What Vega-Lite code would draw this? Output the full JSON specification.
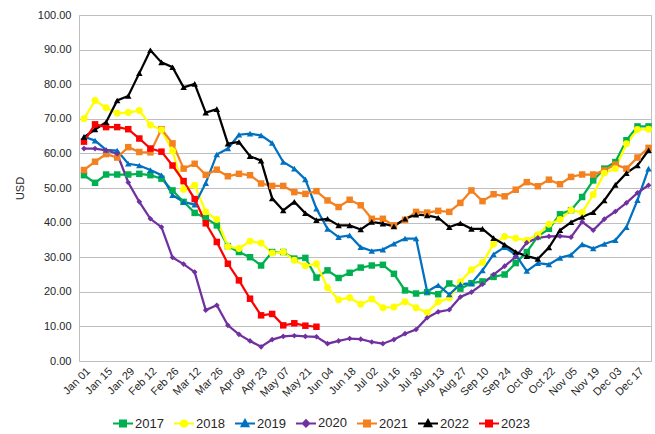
{
  "$schema": "https://vega.github.io/schema/vega-lite/v6.json",
  "width": 572,
  "height": 346,
  "autosize": "none",
  "padding": {"left": 79, "top": 15, "right": 4, "bottom": 73},
  "background": "white",
  "config": {
    "view": {"stroke": "#bfbfbf", "strokeWidth": 1},
    "font": "Liberation Sans",
    "axis": {"labelFont": "Liberation Sans", "titleFont": "Liberation Sans", "labelColor": "#262626", "titleColor": "#262626"}
  },
  "data": {
    "values": [
      {"w":"Jan 01","s":"2017","v":53.7},{"w":"Jan 08","s":"2017","v":51.5},{"w":"Jan 15","s":"2017","v":53.9},{"w":"Jan 22","s":"2017","v":53.9},{"w":"Jan 29","s":"2017","v":53.9},{"w":"Feb 05","s":"2017","v":54.1},{"w":"Feb 12","s":"2017","v":53.7},{"w":"Feb 19","s":"2017","v":52.7},{"w":"Feb 26","s":"2017","v":49.3},{"w":"Mar 05","s":"2017","v":46.0},{"w":"Mar 12","s":"2017","v":42.8},{"w":"Mar 19","s":"2017","v":41.3},{"w":"Mar 26","s":"2017","v":39.2},{"w":"Apr 02","s":"2017","v":33.2},{"w":"Apr 09","s":"2017","v":31.5},{"w":"Apr 16","s":"2017","v":30.0},{"w":"Apr 23","s":"2017","v":27.6},{"w":"Apr 30","s":"2017","v":31.5},{"w":"May 07","s":"2017","v":31.5},{"w":"May 14","s":"2017","v":29.6},{"w":"May 21","s":"2017","v":29.8},{"w":"May 28","s":"2017","v":24.1},{"w":"Jun 04","s":"2017","v":26.2},{"w":"Jun 11","s":"2017","v":24.0},{"w":"Jun 18","s":"2017","v":25.5},{"w":"Jun 25","s":"2017","v":27.0},{"w":"Jul 02","s":"2017","v":27.6},{"w":"Jul 09","s":"2017","v":27.8},{"w":"Jul 16","s":"2017","v":25.2},{"w":"Jul 23","s":"2017","v":20.4},{"w":"Jul 30","s":"2017","v":19.5},{"w":"Aug 06","s":"2017","v":19.9},{"w":"Aug 13","s":"2017","v":19.3},{"w":"Aug 20","s":"2017","v":22.4},{"w":"Aug 27","s":"2017","v":20.9},{"w":"Sep 03","s":"2017","v":22.5},{"w":"Sep 10","s":"2017","v":23.0},{"w":"Sep 17","s":"2017","v":24.3},{"w":"Sep 24","s":"2017","v":25.0},{"w":"Oct 01","s":"2017","v":28.3},{"w":"Oct 08","s":"2017","v":31.5},{"w":"Oct 15","s":"2017","v":36.0},{"w":"Oct 22","s":"2017","v":38.2},{"w":"Oct 29","s":"2017","v":42.4},{"w":"Nov 05","s":"2017","v":43.6},{"w":"Nov 12","s":"2017","v":47.4},{"w":"Nov 19","s":"2017","v":52.2},{"w":"Nov 26","s":"2017","v":55.6},{"w":"Dec 03","s":"2017","v":57.5},{"w":"Dec 10","s":"2017","v":63.8},{"w":"Dec 17","s":"2017","v":67.8},{"w":"Dec 24","s":"2017","v":67.8},
      {"w":"Jan 01","s":"2018","v":70.0},{"w":"Jan 08","s":"2018","v":75.3},{"w":"Jan 15","s":"2018","v":73.2},{"w":"Jan 22","s":"2018","v":71.6},{"w":"Jan 29","s":"2018","v":71.8},{"w":"Feb 05","s":"2018","v":72.4},{"w":"Feb 12","s":"2018","v":68.2},{"w":"Feb 19","s":"2018","v":66.8},{"w":"Feb 26","s":"2018","v":60.7},{"w":"Mar 05","s":"2018","v":49.6},{"w":"Mar 12","s":"2018","v":50.8},{"w":"Mar 19","s":"2018","v":43.1},{"w":"Mar 26","s":"2018","v":40.9},{"w":"Apr 02","s":"2018","v":33.1},{"w":"Apr 09","s":"2018","v":32.5},{"w":"Apr 16","s":"2018","v":34.6},{"w":"Apr 23","s":"2018","v":34.1},{"w":"Apr 30","s":"2018","v":31.2},{"w":"May 07","s":"2018","v":31.5},{"w":"May 14","s":"2018","v":29.1},{"w":"May 21","s":"2018","v":27.5},{"w":"May 28","s":"2018","v":28.1},{"w":"Jun 04","s":"2018","v":21.2},{"w":"Jun 11","s":"2018","v":17.7},{"w":"Jun 18","s":"2018","v":18.3},{"w":"Jun 25","s":"2018","v":16.4},{"w":"Jul 02","s":"2018","v":17.9},{"w":"Jul 09","s":"2018","v":15.4},{"w":"Jul 16","s":"2018","v":15.6},{"w":"Jul 23","s":"2018","v":17.1},{"w":"Jul 30","s":"2018","v":15.4},{"w":"Aug 06","s":"2018","v":14.0},{"w":"Aug 13","s":"2018","v":17.1},{"w":"Aug 20","s":"2018","v":18.2},{"w":"Aug 27","s":"2018","v":22.9},{"w":"Sep 03","s":"2018","v":26.4},{"w":"Sep 10","s":"2018","v":28.5},{"w":"Sep 17","s":"2018","v":33.8},{"w":"Sep 24","s":"2018","v":36.0},{"w":"Oct 01","s":"2018","v":35.5},{"w":"Oct 08","s":"2018","v":34.9},{"w":"Oct 15","s":"2018","v":36.5},{"w":"Oct 22","s":"2018","v":39.5},{"w":"Oct 29","s":"2018","v":40.9},{"w":"Nov 05","s":"2018","v":43.6},{"w":"Nov 12","s":"2018","v":42.9},{"w":"Nov 19","s":"2018","v":48.1},{"w":"Nov 26","s":"2018","v":54.3},{"w":"Dec 03","s":"2018","v":55.6},{"w":"Dec 10","s":"2018","v":62.8},{"w":"Dec 17","s":"2018","v":66.9},{"w":"Dec 24","s":"2018","v":67.0},
      {"w":"Jan 01","s":"2019","v":64.8},{"w":"Jan 08","s":"2019","v":63.7},{"w":"Jan 15","s":"2019","v":61.0},{"w":"Jan 22","s":"2019","v":60.8},{"w":"Jan 29","s":"2019","v":57.0},{"w":"Feb 05","s":"2019","v":56.5},{"w":"Feb 12","s":"2019","v":55.2},{"w":"Feb 19","s":"2019","v":53.7},{"w":"Feb 26","s":"2019","v":47.9},{"w":"Mar 05","s":"2019","v":46.0},{"w":"Mar 12","s":"2019","v":45.2},{"w":"Mar 19","s":"2019","v":51.4},{"w":"Mar 26","s":"2019","v":59.7},{"w":"Apr 02","s":"2019","v":61.4},{"w":"Apr 09","s":"2019","v":65.4},{"w":"Apr 16","s":"2019","v":65.7},{"w":"Apr 23","s":"2019","v":65.2},{"w":"Apr 30","s":"2019","v":63.0},{"w":"May 07","s":"2019","v":57.5},{"w":"May 14","s":"2019","v":55.6},{"w":"May 21","s":"2019","v":52.5},{"w":"May 28","s":"2019","v":44.0},{"w":"Jun 04","s":"2019","v":38.2},{"w":"Jun 11","s":"2019","v":35.8},{"w":"Jun 18","s":"2019","v":36.3},{"w":"Jun 25","s":"2019","v":32.9},{"w":"Jul 02","s":"2019","v":31.8},{"w":"Jul 09","s":"2019","v":32.2},{"w":"Jul 16","s":"2019","v":33.9},{"w":"Jul 23","s":"2019","v":35.4},{"w":"Jul 30","s":"2019","v":35.4},{"w":"Aug 06","s":"2019","v":20.1},{"w":"Aug 13","s":"2019","v":21.9},{"w":"Aug 20","s":"2019","v":19.2},{"w":"Aug 27","s":"2019","v":22.2},{"w":"Sep 03","s":"2019","v":22.4},{"w":"Sep 10","s":"2019","v":26.2},{"w":"Sep 17","s":"2019","v":30.8},{"w":"Sep 24","s":"2019","v":32.9},{"w":"Oct 01","s":"2019","v":30.7},{"w":"Oct 08","s":"2019","v":26.0},{"w":"Oct 15","s":"2019","v":28.3},{"w":"Oct 22","s":"2019","v":27.9},{"w":"Oct 29","s":"2019","v":29.8},{"w":"Nov 05","s":"2019","v":30.7},{"w":"Nov 12","s":"2019","v":33.7},{"w":"Nov 19","s":"2019","v":32.5},{"w":"Nov 26","s":"2019","v":33.8},{"w":"Dec 03","s":"2019","v":34.9},{"w":"Dec 10","s":"2019","v":38.7},{"w":"Dec 17","s":"2019","v":46.5},{"w":"Dec 24","s":"2019","v":55.6},
      {"w":"Jan 01","s":"2020","v":61.4},{"w":"Jan 08","s":"2020","v":61.4},{"w":"Jan 15","s":"2020","v":60.9},{"w":"Jan 22","s":"2020","v":59.9},{"w":"Jan 29","s":"2020","v":51.6},{"w":"Feb 05","s":"2020","v":46.0},{"w":"Feb 12","s":"2020","v":41.1},{"w":"Feb 19","s":"2020","v":38.7},{"w":"Feb 26","s":"2020","v":29.9},{"w":"Mar 05","s":"2020","v":28.0},{"w":"Mar 12","s":"2020","v":25.7},{"w":"Mar 19","s":"2020","v":14.7},{"w":"Mar 26","s":"2020","v":16.1},{"w":"Apr 02","s":"2020","v":10.3},{"w":"Apr 09","s":"2020","v":7.7},{"w":"Apr 16","s":"2020","v":5.8},{"w":"Apr 23","s":"2020","v":4.1},{"w":"Apr 30","s":"2020","v":6.2},{"w":"May 07","s":"2020","v":7.1},{"w":"May 14","s":"2020","v":7.3},{"w":"May 21","s":"2020","v":7.1},{"w":"May 28","s":"2020","v":7.0},{"w":"Jun 04","s":"2020","v":5.0},{"w":"Jun 11","s":"2020","v":5.8},{"w":"Jun 18","s":"2020","v":6.5},{"w":"Jun 25","s":"2020","v":6.3},{"w":"Jul 02","s":"2020","v":5.5},{"w":"Jul 09","s":"2020","v":5.0},{"w":"Jul 16","s":"2020","v":6.2},{"w":"Jul 23","s":"2020","v":7.9},{"w":"Jul 30","s":"2020","v":9.1},{"w":"Aug 06","s":"2020","v":12.5},{"w":"Aug 13","s":"2020","v":14.2},{"w":"Aug 20","s":"2020","v":14.8},{"w":"Aug 27","s":"2020","v":18.5},{"w":"Sep 03","s":"2020","v":19.9},{"w":"Sep 10","s":"2020","v":22.2},{"w":"Sep 17","s":"2020","v":25.0},{"w":"Sep 24","s":"2020","v":27.4},{"w":"Oct 01","s":"2020","v":30.1},{"w":"Oct 08","s":"2020","v":34.2},{"w":"Oct 15","s":"2020","v":35.6},{"w":"Oct 22","s":"2020","v":36.0},{"w":"Oct 29","s":"2020","v":36.1},{"w":"Nov 05","s":"2020","v":35.8},{"w":"Nov 12","s":"2020","v":40.2},{"w":"Nov 19","s":"2020","v":37.8},{"w":"Nov 26","s":"2020","v":41.0},{"w":"Dec 03","s":"2020","v":43.2},{"w":"Dec 10","s":"2020","v":45.7},{"w":"Dec 17","s":"2020","v":48.6},{"w":"Dec 24","s":"2020","v":50.8},
      {"w":"Jan 01","s":"2021","v":55.2},{"w":"Jan 08","s":"2021","v":57.6},{"w":"Jan 15","s":"2021","v":59.8},{"w":"Jan 22","s":"2021","v":58.8},{"w":"Jan 29","s":"2021","v":61.8},{"w":"Feb 05","s":"2021","v":60.4},{"w":"Feb 12","s":"2021","v":60.3},{"w":"Feb 19","s":"2021","v":67.0},{"w":"Feb 26","s":"2021","v":62.9},{"w":"Mar 05","s":"2021","v":55.6},{"w":"Mar 12","s":"2021","v":57.0},{"w":"Mar 19","s":"2021","v":53.8},{"w":"Mar 26","s":"2021","v":55.3},{"w":"Apr 02","s":"2021","v":53.4},{"w":"Apr 09","s":"2021","v":54.1},{"w":"Apr 16","s":"2021","v":53.7},{"w":"Apr 23","s":"2021","v":51.3},{"w":"Apr 30","s":"2021","v":50.6},{"w":"May 07","s":"2021","v":50.6},{"w":"May 14","s":"2021","v":48.8},{"w":"May 21","s":"2021","v":48.3},{"w":"May 28","s":"2021","v":49.1},{"w":"Jun 04","s":"2021","v":46.4},{"w":"Jun 11","s":"2021","v":44.5},{"w":"Jun 18","s":"2021","v":46.6},{"w":"Jun 25","s":"2021","v":45.0},{"w":"Jul 02","s":"2021","v":41.1},{"w":"Jul 09","s":"2021","v":41.1},{"w":"Jul 16","s":"2021","v":39.2},{"w":"Jul 23","s":"2021","v":40.8},{"w":"Jul 30","s":"2021","v":43.1},{"w":"Aug 06","s":"2021","v":42.9},{"w":"Aug 13","s":"2021","v":43.4},{"w":"Aug 20","s":"2021","v":43.1},{"w":"Aug 27","s":"2021","v":45.7},{"w":"Sep 03","s":"2021","v":49.3},{"w":"Sep 10","s":"2021","v":46.2},{"w":"Sep 17","s":"2021","v":48.2},{"w":"Sep 24","s":"2021","v":47.6},{"w":"Oct 01","s":"2021","v":49.5},{"w":"Oct 08","s":"2021","v":51.7},{"w":"Oct 15","s":"2021","v":50.5},{"w":"Oct 22","s":"2021","v":52.4},{"w":"Oct 29","s":"2021","v":51.1},{"w":"Nov 05","s":"2021","v":53.2},{"w":"Nov 12","s":"2021","v":53.9},{"w":"Nov 19","s":"2021","v":53.9},{"w":"Nov 26","s":"2021","v":55.1},{"w":"Dec 03","s":"2021","v":56.8},{"w":"Dec 10","s":"2021","v":55.6},{"w":"Dec 17","s":"2021","v":58.8},{"w":"Dec 24","s":"2021","v":61.6},
      {"w":"Jan 01","s":"2022","v":64.7},{"w":"Jan 08","s":"2022","v":66.9},{"w":"Jan 15","s":"2022","v":69.0},{"w":"Jan 22","s":"2022","v":75.3},{"w":"Jan 29","s":"2022","v":76.6},{"w":"Feb 05","s":"2022","v":83.2},{"w":"Feb 12","s":"2022","v":89.8},{"w":"Feb 19","s":"2022","v":86.3},{"w":"Feb 26","s":"2022","v":84.9},{"w":"Mar 05","s":"2022","v":79.1},{"w":"Mar 12","s":"2022","v":80.1},{"w":"Mar 19","s":"2022","v":71.8},{"w":"Mar 26","s":"2022","v":72.8},{"w":"Apr 02","s":"2022","v":62.8},{"w":"Apr 09","s":"2022","v":63.3},{"w":"Apr 16","s":"2022","v":59.2},{"w":"Apr 23","s":"2022","v":57.9},{"w":"Apr 30","s":"2022","v":47.0},{"w":"May 07","s":"2022","v":43.5},{"w":"May 14","s":"2022","v":46.0},{"w":"May 21","s":"2022","v":42.7},{"w":"May 28","s":"2022","v":40.7},{"w":"Jun 04","s":"2022","v":41.1},{"w":"Jun 11","s":"2022","v":39.2},{"w":"Jun 18","s":"2022","v":39.2},{"w":"Jun 25","s":"2022","v":38.0},{"w":"Jul 02","s":"2022","v":40.2},{"w":"Jul 09","s":"2022","v":39.7},{"w":"Jul 16","s":"2022","v":38.9},{"w":"Jul 23","s":"2022","v":41.1},{"w":"Jul 30","s":"2022","v":42.3},{"w":"Aug 06","s":"2022","v":42.1},{"w":"Aug 13","s":"2022","v":41.4},{"w":"Aug 20","s":"2022","v":38.7},{"w":"Aug 27","s":"2022","v":39.8},{"w":"Sep 03","s":"2022","v":38.2},{"w":"Sep 10","s":"2022","v":38.2},{"w":"Sep 17","s":"2022","v":35.5},{"w":"Sep 24","s":"2022","v":33.6},{"w":"Oct 01","s":"2022","v":31.5},{"w":"Oct 08","s":"2022","v":30.3},{"w":"Oct 15","s":"2022","v":29.5},{"w":"Oct 22","s":"2022","v":32.8},{"w":"Oct 29","s":"2022","v":37.8},{"w":"Nov 05","s":"2022","v":40.1},{"w":"Nov 12","s":"2022","v":41.6},{"w":"Nov 19","s":"2022","v":43.0},{"w":"Nov 26","s":"2022","v":46.4},{"w":"Dec 03","s":"2022","v":50.9},{"w":"Dec 10","s":"2022","v":54.3},{"w":"Dec 17","s":"2022","v":56.5},{"w":"Dec 24","s":"2022","v":60.9},
      {"w":"Jan 01","s":"2023","v":63.4},{"w":"Jan 08","s":"2023","v":68.4},{"w":"Jan 15","s":"2023","v":67.6},{"w":"Jan 22","s":"2023","v":67.6},{"w":"Jan 29","s":"2023","v":67.0},{"w":"Feb 05","s":"2023","v":64.3},{"w":"Feb 12","s":"2023","v":61.4},{"w":"Feb 19","s":"2023","v":60.5},{"w":"Feb 26","s":"2023","v":56.5},{"w":"Mar 05","s":"2023","v":52.0},{"w":"Mar 12","s":"2023","v":46.8},{"w":"Mar 19","s":"2023","v":39.8},{"w":"Mar 26","s":"2023","v":34.4},{"w":"Apr 02","s":"2023","v":28.1},{"w":"Apr 09","s":"2023","v":23.3},{"w":"Apr 16","s":"2023","v":18.0},{"w":"Apr 23","s":"2023","v":13.2},{"w":"Apr 30","s":"2023","v":13.6},{"w":"May 07","s":"2023","v":10.3},{"w":"May 14","s":"2023","v":10.9},{"w":"May 21","s":"2023","v":10.2},{"w":"May 28","s":"2023","v":9.9}
    ]
  },
  "encoding": {
    "x": {
      "field": "w", "type": "ordinal", "sort": null,
      "scale": {"type": "point", "padding": 0.335, "align": 0.67},
      "axis": {
        "values": ["Jan 01","Jan 15","Jan 29","Feb 12","Feb 26","Mar 12","Mar 26","Apr 09","Apr 23","May 07","May 21","Jun 04","Jun 18","Jul 02","Jul 16","Jul 30","Aug 13","Aug 27","Sep 10","Sep 24","Oct 08","Oct 22","Nov 05","Nov 19","Dec 03","Dec 17"],
        "title": null, "labelAngle": -45, "labelFontSize": 11, "ticks": false, "grid": false,
        "domainColor": "#bfbfbf", "labelPadding": 4
      }
    },
    "y": {
      "field": "v", "type": "quantitative",
      "scale": {"domain": [0, 100], "nice": false},
      "axis": {
        "values": [0,10,20,30,40,50,60,70,80,90,100], "format": ".2f",
        "title": "USD", "titleFontWeight": "normal", "titleFontSize": 11, "titlePadding": 12,
        "labelFontSize": 11, "labelPadding": 8, "ticks": false, "domain": false,
        "grid": true, "gridColor": "#bfbfbf", "gridWidth": 1
      }
    },
    "color": {
      "field": "s", "type": "nominal",
      "scale": {"domain": ["2017","2018","2019","2020","2021","2022","2023"], "range": ["#00b050","#ffff00","#0070c0","#7030a0","#f4811f","#000000","#ff0000"]},
      "legend": {
        "title": null, "orient": "none", "legendX": 33, "legendY": 397, "direction": "horizontal", "columns": 7,
        "symbolSize": 400, "symbolStrokeWidth": 2, "labelFontSize": 13, "labelFont": "Liberation Sans", "labelColor": "#262626",
        "columnPadding": 6, "labelOffset": 1, "symbolType": "stroke",
        "encode": {
          "symbols": {
            "update": {
              "shape": {"signal": "datum.value === '2018' ? 'M-1,0H1M0.3,0A0.3,0.3,0,1,1,-0.3,0A0.3,0.3,0,1,1,0.3,0Z' : (datum.value === '2019' || datum.value === '2022') ? 'M-1,0H1M0,-0.34L0.34,0.28L-0.34,0.28Z' : datum.value === '2020' ? 'M-1,0H1M0,-0.32L0.32,0L0,0.32L-0.32,0Z' : 'M-1,0H1M-0.3,-0.3H0.3V0.3H-0.3Z'"},
              "fill": {"scale": "color", "field": "value"},
              "stroke": {"scale": "color", "field": "value"},
              "fillOpacity": {"value": 1}
            }
          }
        }
      }
    }
  },
  "layer": [
    {
      "mark": {"type": "line", "strokeWidth": 2.25}
    },
    {
      "transform": [{"filter": {"field": "s", "oneOf": ["2017", "2021", "2023"]}}],
      "mark": {"type": "point", "filled": true, "size": 42, "opacity": 1, "shape": "square"}
    },
    {
      "transform": [{"filter": {"field": "s", "oneOf": ["2018"]}}],
      "mark": {"type": "point", "filled": true, "size": 48, "opacity": 1, "shape": "circle"}
    },
    {
      "transform": [{"filter": {"field": "s", "oneOf": ["2019", "2022"]}}],
      "mark": {"type": "point", "filled": true, "size": 42, "opacity": 1, "shape": "triangle-up"}
    },
    {
      "transform": [{"filter": {"field": "s", "oneOf": ["2020"]}}],
      "mark": {"type": "point", "filled": true, "size": 32, "opacity": 1, "shape": "diamond"}
    }
  ]
}
